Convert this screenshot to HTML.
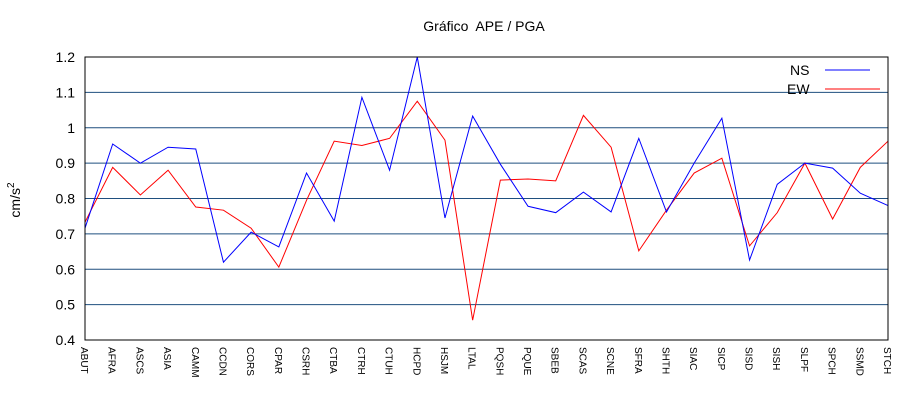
<!DOCTYPE html>
<html><head><meta charset="utf-8"><style>
body{margin:0;background:#fff;font-family:"Liberation Sans",sans-serif}
</style></head><body>
<svg id="c" width="920" height="400" xmlns="http://www.w3.org/2000/svg" font-family="Liberation Sans, sans-serif">
<rect width="920" height="400" fill="#fff"/>
<text x="484" y="31" text-anchor="middle" font-size="14">Gráfico&#160; APE / PGA</text>
<text transform="translate(20,200) rotate(-90)" text-anchor="middle" font-size="14">cm/s<tspan dy="-6" font-size="10">2</tspan></text>
<g id="grid"></g><g id="series"></g><g id="ticks"></g>
<rect x="85" y="57" width="803" height="283" fill="none" stroke="#000"/>
<g>
<text x="790" y="75" font-size="14">NS</text>
<line x1="825" y1="70" x2="870" y2="70" stroke="#0000ff"/>
<text x="787" y="94" font-size="14">EW</text>
<line x1="825" y1="89" x2="880" y2="89" stroke="#ff0000"/>
</g>
</svg>
<script>
const categories=["ABUT","AFRA","ASCS","ASIA","CAMM","CCDN","CORS","CPAR","CSRH","CTBA","CTRH","CTUH","HCPD","HSJM","LTAL","PQSH","PQUE","SBEB","SCAS","SCNE","SFRA","SHTH","SIAC","SICP","SISD","SISH","SLPF","SPCH","SSMD","STCH"];
const nsValues=[0.716,0.954,0.90,0.945,0.94,0.62,0.705,0.663,0.872,0.736,1.086,0.88,1.2,0.745,1.033,0.897,0.778,0.76,0.818,0.762,0.97,0.762,0.90,1.027,0.626,0.84,0.90,0.886,0.815,0.78];
const ewValues=[0.733,0.888,0.81,0.88,0.776,0.767,0.716,0.606,0.795,0.962,0.95,0.97,1.075,0.965,0.456,0.852,0.855,0.85,1.035,0.945,0.652,0.767,0.872,0.914,0.666,0.76,0.90,0.742,0.888,0.962];
const yTicks=[0.4,0.5,0.6,0.7,0.8,0.9,1,1.1,1.2];
const yTickLabels=["0.4","0.5","0.6","0.7","0.8","0.9","1","1.1","1.2"];
const NS="http://www.w3.org/2000/svg";
const X0=85,X1=888,Y0=340,Y1=57,YMIN=0.4,YMAX=1.2;
function xs(i){return X0+i*(X1-X0)/(categories.length-1);}
function ys(v){return Y0-(v-YMIN)/(YMAX-YMIN)*(Y0-Y1);}
const grid=document.getElementById('grid'),ticks=document.getElementById('ticks'),ser=document.getElementById('series');
yTicks.forEach((v,i)=>{
  const l=document.createElementNS(NS,'line');
  l.setAttribute('x1',X0);l.setAttribute('x2',X1);l.setAttribute('y1',ys(v));l.setAttribute('y2',ys(v));
  l.setAttribute('stroke','#1f4f7f');
  
  
  grid.appendChild(l);
  const t=document.createElementNS(NS,'text');
  t.setAttribute('x',75);t.setAttribute('y',ys(v)+5);t.setAttribute('text-anchor','end');t.setAttribute('font-size','14');
  t.textContent=yTickLabels[i];
  
  
  ticks.appendChild(t);
});
categories.forEach((c,i)=>{
  const t=document.createElementNS(NS,'text');
  t.setAttribute('transform','translate('+(xs(i)-4)+',347) rotate(90)');
  t.setAttribute('font-size','10');
  t.textContent=c;
  
  
  ticks.appendChild(t);
});
function line(vals,color,name){
  const p=document.createElementNS(NS,'polyline');
  p.setAttribute('points',vals.map((v,i)=>xs(i)+','+ys(v)).join(' '));
  p.setAttribute('fill','none');p.setAttribute('stroke',color);
  
  
  ser.appendChild(p);
}
line(ewValues,'#ff0000','ew-series-line');
line(nsValues,'#0000ff','ns-series-line');
</script>
</body></html>
